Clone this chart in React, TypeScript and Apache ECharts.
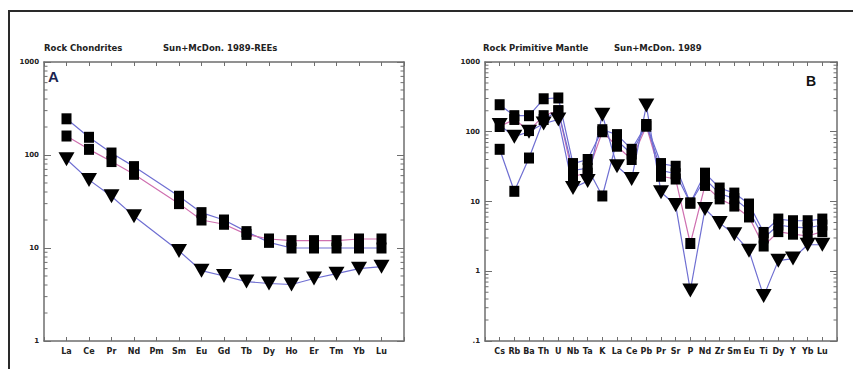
import React, { useEffect, useRef } from "react";
import * as echarts from "echarts";

// ---------- Panel A : REE, chondrite normalised ----------
const reeLabels = ["La", "Ce", "Pr", "Nd", "Pm", "Sm", "Eu", "Gd", "Tb", "Dy", "Ho", "Er", "Tm", "Yb", "Lu"];
const reeSquaresBlue = [245, 155, 105, 75, null, 36, 24, 20, 15, 11.5, 10, 10, 10, 10, 10];
const reeSquaresPink = [160, 115, 85, 62, null, 30, 20, 18, 14, 12.5, 12, 12, 12, 12.5, 12.5];
const reeTriangles = [90, 54, 36, 22, null, 9.3, 5.7, 5.0, 4.35, 4.15, 4.05, 4.7, 5.3, 6.0, 6.3];
const reeYLabels = ["1", "10", "100", "1000"];

// ---------- Panel B : spider, primitive mantle normalised ----------
const spiderLabels = ["Cs", "Rb", "Ba", "Th", "U", "Nb", "Ta", "K", "La", "Ce", "Pb", "Pr", "Sr", "P", "Nd", "Zr", "Sm", "Eu", "Ti", "Dy", "Y", "Yb", "Lu"];
const spiderSquares1 = [244, 170, 170, 297, 305, 35, 40, 107, 91, 56, 127, 35, 32, 9.5, 25.5, 15.6, 13.2, 9.2, 3.6, 5.6, 5.3, 5.3, 5.6];
const spiderSquares2 = [119, 150, 104, 170, 200, 23, 25.5, 100, 62, 40, 120, 23, 21, 2.5, 17, 10.9, 8.6, 6.0, 2.3, 3.7, 3.4, 3.2, 3.7];
const spiderSquares3 = [56, 14, 42, 150, 200, 28, 30, 12, 75, 48, 127, 28, 25, 9.5, 21, 13, 11, 7.5, 3.0, 4.6, 4.3, 4.2, 4.6];
const spiderTriangles = [125, 85, 100, 131, 150, 15.6, 19.6, 176, 32, 21, 237, 13.6, 8.9, 0.53, 7.8, 4.9, 3.4, 1.97, 0.44, 1.42, 1.52, 2.4, 2.4];
const spiderYLabels = [".1", "1", "10", "100", "1000"];

const FONT = "DejaVu Sans";
const AXIS = "#6e6e6e";
const BLUE = "#6f6fd2";
const PINK = "#cf70b0";

const toPairs = (vals: (number | null)[]) =>
  vals.map((v, i) => (v == null ? null : [i + 1, v])).filter((d) => d !== null) as number[][];

function xAxes(gridIndex: number, max: number, labels: string[]) {
  const common: any = {
    type: "value",
    gridIndex,
    min: 0,
    max,
    interval: 1,
    splitLine: { show: false },
    axisLine: { show: true, onZero: false, lineStyle: { color: AXIS, width: 1.5 } },
    axisTick: { show: true, inside: true, length: 4, lineStyle: { color: AXIS, width: 1 } },
  };
  return [
    {
      ...common,
      position: "bottom",
      axisLabel: {
        show: true,
        margin: 6,
        fontSize: 8,
        fontWeight: "bold",
        fontFamily: FONT,
        color: "#222",
        formatter: (v: number) => labels[Math.round(v) - 1] ?? "",
      },
    },
    { ...common, position: "top", axisLabel: { show: false } },
  ];
}

function yAxes(gridIndex: number, min: number, max: number, labels: string[]) {
  const minExp = Math.round(Math.log10(min));
  const common: any = {
    type: "log",
    logBase: 10,
    gridIndex,
    min,
    max,
    splitLine: { show: false },
    axisLine: { show: true, onZero: false, lineStyle: { color: AXIS, width: 1.5 } },
    axisTick: { show: true, inside: true, length: 7, lineStyle: { color: AXIS, width: 1 } },
  };
  return [
    {
      ...common,
      position: "left",
      axisLabel: {
        show: true,
        margin: 5,
        fontSize: 7,
        fontWeight: "bold",
        fontFamily: FONT,
        color: "#222",
        formatter: (v: number) => labels[Math.round(Math.log10(v)) - minExp] ?? "",
      },
    },
    { ...common, position: "right", axisLabel: { show: false } },
  ];
}

function minorTicks(xi: number, yi: number, xmax: number, min: number, max: number) {
  const data: number[][] = [];
  for (let e = Math.round(Math.log10(min)); e < Math.round(Math.log10(max)); e++) {
    for (let k = 2; k <= 9; k++) data.push([0, k * Math.pow(10, e)]);
  }
  return {
    type: "custom",
    xAxisIndex: xi,
    yAxisIndex: yi,
    silent: true,
    z: 1,
    data,
    renderItem: (_p: any, api: any) => {
      const v = api.value(1);
      const a = api.coord([0, v]);
      const b = api.coord([xmax, v]);
      const st = { stroke: AXIS, lineWidth: 1 };
      return {
        type: "group",
        children: [
          { type: "line", shape: { x1: a[0], y1: a[1], x2: a[0] + 3.5, y2: a[1] }, style: st },
          { type: "line", shape: { x1: b[0] - 3.5, y1: b[1], x2: b[0], y2: b[1] }, style: st },
        ],
      };
    },
  };
}

function line(xi: number, yi: number, vals: (number | null)[], color: string) {
  return {
    type: "line",
    xAxisIndex: xi,
    yAxisIndex: yi,
    data: toPairs(vals),
    symbol: "none",
    lineStyle: { color, width: 1.2 },
    z: 2,
    silent: true,
  };
}

function markers(xi: number, yi: number, vals: (number | null)[], tri: boolean) {
  return {
    type: "scatter",
    xAxisIndex: xi,
    yAxisIndex: yi,
    data: toPairs(vals),
    symbol: tri ? "triangle" : "rect",
    symbolSize: tri ? [16, 14] : [10, 11],
    symbolRotate: tri ? 180 : 0,
    itemStyle: { color: "#000", opacity: 1 },
    z: 5,
    silent: true,
  };
}

function buildOption(): any {
  const titleStyle = { fontSize: 8.5, fontWeight: "bold", fontFamily: FONT, fill: "#222", verticalAlign: "middle" };
  return {
    animation: false,
    backgroundColor: "#fff",
    grid: [
      { left: 44, top: 62, width: 360, height: 279 },
      { left: 485, top: 62, width: 352, height: 279 },
    ],
    xAxis: [...xAxes(0, 16, reeLabels), ...xAxes(1, 24, spiderLabels)],
    yAxis: [...yAxes(0, 1, 1000, reeYLabels), ...yAxes(1, 0.1, 1000, spiderYLabels)],
    series: [
      minorTicks(0, 0, 16, 1, 1000),
      minorTicks(2, 2, 24, 0.1, 1000),
      line(0, 0, reeSquaresBlue, BLUE),
      line(0, 0, reeSquaresPink, PINK),
      line(0, 0, reeTriangles, BLUE),
      markers(0, 0, reeSquaresBlue, false),
      markers(0, 0, reeSquaresPink, false),
      markers(0, 0, reeTriangles, true),
      line(2, 2, spiderSquares1, BLUE),
      line(2, 2, spiderSquares2, PINK),
      line(2, 2, spiderSquares3, BLUE),
      line(2, 2, spiderTriangles, BLUE),
      markers(2, 2, spiderSquares1, false),
      markers(2, 2, spiderSquares2, false),
      markers(2, 2, spiderSquares3, false),
      markers(2, 2, spiderTriangles, true),
    ],
    graphic: [
      {
        type: "rect",
        shape: { x: 9, y: 11, width: 900, height: 420 },
        style: { fill: "none", stroke: "#2a2a2a", lineWidth: 2 },
        silent: true,
      },
      { type: "text", x: 44, y: 48, style: { ...titleStyle, text: "Rock Chondrites" } },
      { type: "text", x: 163, y: 48, style: { ...titleStyle, text: "Sun+McDon. 1989-REEs" } },
      { type: "text", x: 483, y: 48, style: { ...titleStyle, text: "Rock Primitive Mantle" } },
      { type: "text", x: 614, y: 48, style: { ...titleStyle, text: "Sun+McDon. 1989" } },
      {
        type: "text",
        x: 48,
        y: 76,
        z: 10,
        style: { text: "A", fontSize: 15, fontWeight: "bold", fontFamily: "Liberation Sans", fill: "#1b2550", verticalAlign: "middle" },
      },
      {
        type: "text",
        x: 806,
        y: 81,
        z: 10,
        style: { text: "B", fontSize: 14, fontWeight: "bold", fontFamily: "Liberation Sans", fill: "#111", verticalAlign: "middle" },
      },
    ],
  };
}

export default function App() {
  const ref = useRef<HTMLDivElement>(null);
  useEffect(() => {
    document.body.style.margin = "0";
    const chart = echarts.init(ref.current as HTMLDivElement, null, { renderer: "svg" });
    chart.setOption(buildOption());
    return () => chart.dispose();
  }, []);
  return <div ref={ref} style={{ width: 853, height: 369, background: "#fff" }} />;
}
